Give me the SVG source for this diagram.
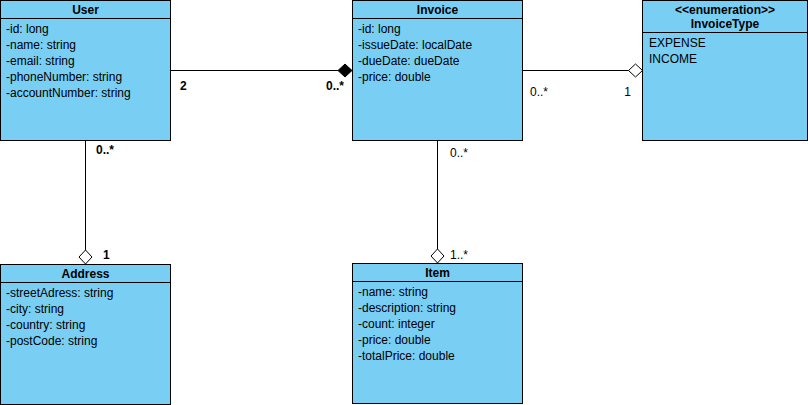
<svg xmlns="http://www.w3.org/2000/svg" width="808" height="405" viewBox="0 0 808 405">
<style>
.box{fill:#79CEF3;stroke:#000;stroke-width:1}
.sep{stroke:#000;stroke-width:1}
text{font-family:"Liberation Sans",Arial,sans-serif;font-size:12px;fill:#000}
.h{font-weight:bold;text-anchor:middle}
.b{font-weight:bold}
.line{stroke:#000;stroke-width:1;fill:none}
</style>
<rect width="808" height="405" fill="#fff"/>
<g id="connectors">
<path class="line" d="M170.5 70.5 H338"/>
<path d="M338 70.5 L345 64 L352 70.5 L345 77 Z" fill="#000" stroke="#000"/>
<path class="line" d="M522.5 70.5 H628.5"/>
<path d="M628.5 70.5 L635.5 64 L642.5 70.5 L635.5 77 Z" fill="#fff" stroke="#000"/>
<path class="line" d="M85.5 140.5 V250"/>
<path d="M85.5 250 L92 257 L85.5 264 L79 257 Z" fill="#fff" stroke="#000"/>
<path class="line" d="M437.5 140.5 V249"/>
<path d="M437.5 249 L444 256 L437.5 263 L431 256 Z" fill="#fff" stroke="#000"/>
<text class="b" x="180" y="90">2</text>
<text class="b" x="344" y="90" text-anchor="end">0..*</text>
<text x="530" y="96">0..*</text>
<text x="631" y="96" text-anchor="end">1</text>
<text class="b" x="96" y="154">0..*</text>
<text class="b" x="103" y="259">1</text>
<text x="450" y="157">0..*</text>
<text x="450" y="259">1..*</text>
</g>
<g id="user">
<rect class="box" x="0.5" y="0.5" width="170" height="140"/>
<line class="sep" x1="0.5" y1="18.5" x2="170.5" y2="18.5"/>
<text class="h" x="85.5" y="13.5">User</text>
<text x="6" y="33">-id: long</text>
<text x="6" y="49">-name: string</text>
<text x="6" y="65">-email: string</text>
<text x="6" y="81">-phoneNumber: string</text>
<text x="6" y="97">-accountNumber: string</text>
</g>
<g id="invoice">
<rect class="box" x="352.5" y="0.5" width="170" height="140"/>
<line class="sep" x1="352.5" y1="18.5" x2="522.5" y2="18.5"/>
<text class="h" x="437.5" y="13.5">Invoice</text>
<text x="358" y="33">-id: long</text>
<text x="358" y="49">-issueDate: localDate</text>
<text x="358" y="65">-dueDate: dueDate</text>
<text x="358" y="81">-price: double</text>
</g>
<g id="invoicetype">
<rect class="box" x="642.5" y="0.5" width="165" height="140"/>
<line class="sep" x1="642.5" y1="32.5" x2="807.5" y2="32.5"/>
<text class="h" x="725" y="13.5">&lt;&lt;enumeration&gt;&gt;</text>
<text class="h" x="725" y="27.5">InvoiceType</text>
<text x="649" y="47">EXPENSE</text>
<text x="649" y="63">INCOME</text>
</g>
<g id="address">
<rect class="box" x="0.5" y="264.5" width="170" height="140"/>
<line class="sep" x1="0.5" y1="282.5" x2="170.5" y2="282.5"/>
<text class="h" x="85.5" y="277.5">Address</text>
<text x="6" y="297">-streetAdress: string</text>
<text x="6" y="313">-city: string</text>
<text x="6" y="329">-country: string</text>
<text x="6" y="345">-postCode: string</text>
</g>
<g id="item">
<rect class="box" x="352.5" y="263.5" width="170" height="140"/>
<line class="sep" x1="352.5" y1="281.5" x2="522.5" y2="281.5"/>
<text class="h" x="437.5" y="276.5">Item</text>
<text x="358" y="296">-name: string</text>
<text x="358" y="312">-description: string</text>
<text x="358" y="328">-count: integer</text>
<text x="358" y="344">-price: double</text>
<text x="358" y="360">-totalPrice: double</text>
</g>
</svg>
